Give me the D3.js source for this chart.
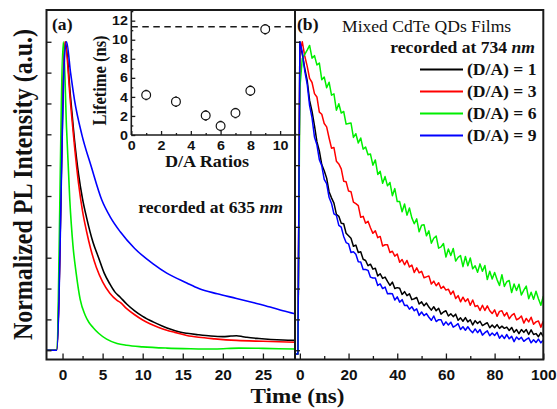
<!DOCTYPE html>
<html><head><meta charset="utf-8">
<script src="https://cdn.jsdelivr.net/npm/d3@7"></script>
<style>
html,body{margin:0;padding:0;background:#fff;}
svg{display:block;}
</style></head>
<body>
<svg id="chart" width="557" height="409"></svg>
<script>
// ---------- series ----------
const seriesNames  = ["(D/A) = 1", "(D/A) = 3", "(D/A) = 6", "(D/A) = 9"];
const seriesColors = ["#000000", "#ff0000", "#00ee00", "#0000ff"];

// (a) PL decays recorded at 635 nm (time in ns, normalized intensity)
const tA1 = [-2, -0.75, 0.35, 1.0, 1.5, 2.0, 2.5, 3.0, 3.8, 4.5, 5.2, 5.9, 6.5, 7.2, 8, 9, 10, 11.3, 12.5, 13.5, 14.5, 15.5, 17, 18.5, 20, 21, 21.7, 22.5, 23, 24.5, 26, 27.5, 29];
const vA1 = [0, 0, 1.0, 0.82, 0.68, 0.57, 0.49, 0.43, 0.35, 0.30, 0.25, 0.215, 0.19, 0.172, 0.15, 0.128, 0.11, 0.092, 0.078, 0.068, 0.06, 0.055, 0.05, 0.046, 0.044, 0.046, 0.047, 0.044, 0.042, 0.038, 0.035, 0.033, 0.032];
const tA3 = [-2, -0.72, 0.3, 1.0, 1.5, 2.0, 2.5, 3.0, 3.5, 4.2, 5.0, 5.9, 6.8, 7.2, 8, 9, 10, 10.9, 12, 13, 14, 15.5, 17, 19, 21.7, 25, 29];
const vA3 = [0, 0, 1.0, 0.8, 0.66, 0.54, 0.45, 0.385, 0.33, 0.27, 0.222, 0.185, 0.162, 0.155, 0.135, 0.115, 0.098, 0.086, 0.074, 0.065, 0.058, 0.048, 0.042, 0.037, 0.032, 0.029, 0.026];
const tA6 = [-2, -0.75, 0.1, 0.5, 0.9, 1.3, 1.7, 2.2, 2.8, 3.3, 3.8, 4.5, 5.5, 6.8, 8, 10, 13, 16, 19, 22, 25, 27, 29];
const vA6 = [0, 0, 1.0, 0.72, 0.49, 0.34, 0.25, 0.165, 0.115, 0.09, 0.074, 0.055, 0.036, 0.022, 0.016, 0.011, 0.007, 0.005, 0.004, 0.007, 0.006, 0.005, 0.004];
const tA9 = [-2, -0.72, 0.25, 0.5, 1.0, 1.5, 2.4, 3.6, 4.9, 6, 7.2, 9, 11.3, 13, 15.5, 17, 19.3, 21.7, 24, 25.9, 27.5, 29];
const vA9 = [0, 0, 0.95, 1.0, 0.9, 0.81, 0.70, 0.594, 0.487, 0.43, 0.384, 0.33, 0.28, 0.25, 0.218, 0.2, 0.183, 0.168, 0.153, 0.14, 0.128, 0.118];

// (b) PL decays recorded at 734 nm
const tB = [-2, -0.8, 0, 1, 2, 3, 4, 5, 6, 7, 8, 9, 10, 11, 12, 13, 14, 15, 16, 17, 18, 19, 20, 21, 22, 23, 24, 25, 26, 27, 28, 29, 30, 31, 32, 33, 34, 35, 36, 37, 38, 39, 40, 41, 42, 43, 44, 45, 46, 47, 48, 49, 50, 51, 52, 53, 54, 55, 56, 57, 58, 59, 60, 61, 62, 63, 64, 65, 66, 67, 68, 69, 70, 71, 72, 73, 74, 75, 76, 77, 78, 79, 80, 81, 82, 83, 84, 85, 86, 87, 88, 89, 90, 91, 92, 93, 94, 95, 96, 97, 98, 99, 100];
const vB1 = [-0.012, -0.012,
  1.000, 0.959, 0.914, 0.875, 0.810, 0.774, 0.728, 0.676, 0.646, 0.602,
  0.582, 0.558, 0.514, 0.494, 0.477, 0.441, 0.434, 0.412, 0.410, 0.379,
  0.371, 0.363, 0.337, 0.341, 0.317, 0.319, 0.295, 0.291, 0.274, 0.279,
  0.263, 0.266, 0.241, 0.248, 0.233, 0.237, 0.223, 0.210, 0.221, 0.200,
  0.203, 0.201, 0.181, 0.190, 0.177, 0.183, 0.164, 0.167, 0.171, 0.150,
  0.157, 0.144, 0.153, 0.140, 0.130, 0.141, 0.128, 0.136, 0.117, 0.124,
  0.128, 0.111, 0.118, 0.109, 0.117, 0.097, 0.105, 0.094, 0.106, 0.092,
  0.099, 0.082, 0.096, 0.087, 0.094, 0.080, 0.085, 0.089, 0.073, 0.082,
  0.073, 0.083, 0.071, 0.078, 0.071, 0.075, 0.064, 0.074, 0.058, 0.067,
  0.054, 0.067, 0.058, 0.067, 0.051, 0.066, 0.051, 0.054, 0.044, 0.057, 0.044];
const vB3 = [-0.012, -0.012,
  0.965, 1.000, 0.954, 0.921, 0.881, 0.868, 0.832, 0.821, 0.772, 0.765,
  0.735, 0.724, 0.688, 0.655, 0.657, 0.613, 0.604, 0.588, 0.548, 0.546,
  0.516, 0.514, 0.480, 0.475, 0.469, 0.431, 0.434, 0.412, 0.418, 0.397,
  0.379, 0.387, 0.365, 0.369, 0.338, 0.342, 0.342, 0.317, 0.321, 0.305,
  0.312, 0.285, 0.294, 0.277, 0.291, 0.270, 0.276, 0.252, 0.267, 0.251,
  0.256, 0.235, 0.238, 0.241, 0.215, 0.224, 0.209, 0.219, 0.200, 0.207,
  0.195, 0.198, 0.181, 0.192, 0.168, 0.177, 0.157, 0.172, 0.158, 0.167,
  0.146, 0.163, 0.142, 0.145, 0.129, 0.146, 0.129, 0.144, 0.128, 0.119,
  0.131, 0.110, 0.126, 0.128, 0.111, 0.122, 0.102, 0.113, 0.119, 0.099,
  0.103, 0.111, 0.088, 0.103, 0.092, 0.107, 0.084, 0.092, 0.095, 0.075, 0.095];
const vB6 = [-0.012, -0.012,
  0.850, 0.946, 0.959, 0.973, 0.988, 0.947, 0.955, 0.925, 0.931, 0.877,
  0.886, 0.851, 0.869, 0.827, 0.831, 0.778, 0.799, 0.769, 0.774, 0.733,
  0.735, 0.737, 0.690, 0.702, 0.672, 0.688, 0.652, 0.659, 0.634, 0.636,
  0.600, 0.617, 0.570, 0.580, 0.541, 0.563, 0.533, 0.544, 0.501, 0.524,
  0.482, 0.482, 0.449, 0.474, 0.438, 0.461, 0.429, 0.410, 0.426, 0.384,
  0.405, 0.407, 0.371, 0.387, 0.347, 0.363, 0.370, 0.331, 0.335, 0.346,
  0.302, 0.328, 0.307, 0.330, 0.289, 0.301, 0.307, 0.271, 0.304, 0.274,
  0.299, 0.264, 0.274, 0.253, 0.280, 0.256, 0.275, 0.229, 0.256, 0.231,
  0.252, 0.229, 0.210, 0.245, 0.207, 0.222, 0.226, 0.187, 0.215, 0.194,
  0.214, 0.179, 0.195, 0.208, 0.167, 0.188, 0.165, 0.191, 0.167, 0.146, 0.175];
const vB9 = [-0.012, -0.012,
  1.000, 0.966, 0.906, 0.863, 0.793, 0.753, 0.691, 0.666, 0.618, 0.598,
  0.554, 0.540, 0.496, 0.476, 0.442, 0.437, 0.405, 0.399, 0.369, 0.349,
  0.345, 0.317, 0.319, 0.311, 0.287, 0.286, 0.262, 0.262, 0.259, 0.237,
  0.234, 0.234, 0.210, 0.215, 0.200, 0.205, 0.183, 0.184, 0.183, 0.163,
  0.173, 0.156, 0.164, 0.145, 0.146, 0.133, 0.141, 0.128, 0.134, 0.113,
  0.124, 0.112, 0.119, 0.107, 0.097, 0.111, 0.093, 0.099, 0.099, 0.081,
  0.092, 0.082, 0.091, 0.075, 0.080, 0.086, 0.067, 0.076, 0.065, 0.076,
  0.065, 0.057, 0.069, 0.057, 0.067, 0.049, 0.057, 0.063, 0.047, 0.056,
  0.048, 0.058, 0.039, 0.049, 0.038, 0.051, 0.037, 0.045, 0.028, 0.043,
  0.035, 0.042, 0.029, 0.035, 0.040, 0.024, 0.034, 0.025, 0.036, 0.024, 0.033];

// inset: fitted lifetime vs donor/acceptor ratio
const ratios      = [1, 3, 5, 6, 7, 8, 9];
const lifetimes   = [4.2, 3.5, 2.05, 0.95, 2.3, 4.65, 11.1];
const lifetimeErr = [0.55, 0.55, 0.55, 0.55, 0.55, 0.55, 0.55];
const refLifetime = 11.37;

// ticks
const ticksA  = [0, 5, 10, 15, 20, 25];
const minorA  = [2.5, 7.5, 12.5, 17.5, 22.5, 27.5];
const ticksB  = [0, 20, 40, 60, 80, 100];
const minorB  = [10, 30, 50, 70, 90];
const ticksY  = [0, 0.1, 0.2, 0.3, 0.4, 0.5, 0.6, 0.7, 0.8, 0.9, 1.0];
const insetTicksX = [0, 2, 4, 6, 8, 10];
const insetMinorX = [1, 3, 5, 7, 9, 11];
const insetTicksY = [0, 2, 4, 6, 8, 10, 12];
const insetMinorY = [1, 3, 5, 7, 9, 11, 13];

// ---------- layout ----------
const svg = d3.select("#chart");
const L = 46.5, T = 10, R = 543.3, B = 359.5, MID = 295;
const SERIF = "'Liberation Serif','Times New Roman',serif";
const SANS  = "'Liberation Sans',Arial,sans-serif";
const SX = 1.1;   // horizontal stretch of lettering
const AX = "#1a1a1a";

const y  = d3.scaleLinear().domain([-0.03, 1.103]).range([B, T]);
const xA = d3.scaleLinear().domain([-2, 29]).range([L, MID]);
const xB = d3.scaleLinear().domain([-2, 100]).range([MID, R]);

const defs = svg.append("defs");
defs.append("clipPath").attr("id", "clipA").append("rect")
  .attr("x", L).attr("y", T).attr("width", MID - L).attr("height", B - T);
defs.append("clipPath").attr("id", "clipB").append("rect")
  .attr("x", MID).attr("y", T).attr("width", R - MID).attr("height", B - T);

// panel (a) curves
const lineA = d3.line().x(d => xA(d[0])).y(d => y(d[1])).curve(d3.curveMonotoneX);
const gA = svg.append("g").attr("clip-path", "url(#clipA)");
[[tA1, vA1], [tA3, vA3], [tA6, vA6], [tA9, vA9]].forEach(([t, v], i) => {
  gA.append("path").attr("d", lineA(d3.zip(t, v)))
    .attr("fill", "none").attr("stroke", seriesColors[i]).attr("stroke-width", 1.6)
    .attr("stroke-linejoin", "round");
});

// panel (b) curves
const lineB = d3.line().x(d => xB(d[0])).y(d => y(d[1]));
const gB = svg.append("g").attr("clip-path", "url(#clipB)");
[vB1, vB3, vB6, vB9].forEach((v, i) => {
  gB.append("path").attr("d", lineB(d3.zip(tB, v)))
    .attr("fill", "none").attr("stroke", seriesColors[i]).attr("stroke-width", 1.5)
    .attr("stroke-linejoin", "round");
});

// axes
function styleAxis(g, size, family) {
  g.select(".domain").remove();
  g.selectAll(".tick line").attr("stroke", AX).attr("stroke-width", 1.3);
  g.selectAll(".tick text").attr("fill", "#111").attr("font-family", family)
    .attr("font-weight", "bold").attr("font-size", size)
    .attr("transform", `scale(${SX},1)`);
}
function bottomAxis(scale, ticks, minor) {
  const g = svg.append("g").attr("transform", `translate(0,${B})`)
    .call(d3.axisBottom(scale).tickValues(ticks).tickSize(-6).tickPadding(10.6).tickFormat(d3.format("d")));
  styleAxis(g, 14, SANS);
  const m = svg.append("g").attr("transform", `translate(0,${B})`)
    .call(d3.axisBottom(scale).tickValues(minor).tickSize(-3.5).tickFormat(""));
  styleAxis(m, 14, SANS);
}
bottomAxis(xA, ticksA, minorA);
bottomAxis(xB, ticksB, minorB);

[L, MID].forEach(px => {
  const g = svg.append("g").attr("transform", `translate(${px},0)`)
    .call(d3.axisLeft(y).tickValues(ticksY).tickSize(-5).tickFormat(""));
  styleAxis(g, 14, SANS);
});

// outer frame and panel divider
svg.append("rect").attr("x", L).attr("y", T).attr("width", R - L).attr("height", B - T)
  .attr("fill", "none").attr("stroke", AX).attr("stroke-width", 2);
svg.append("line").attr("x1", MID).attr("x2", MID).attr("y1", T).attr("y2", B)
  .attr("stroke", AX).attr("stroke-width", 2);

// ---------- inset ----------
const IL = 131.3, IB = 135;
const ix = d3.scaleLinear().domain([0, 11]).range([IL, MID]);
const iy = d3.scaleLinear().domain([0, 13.12]).range([IB, T]);
const gi = svg.append("g");
gi.append("line").attr("x1", IL).attr("x2", IL).attr("y1", T).attr("y2", IB)
  .attr("stroke", AX).attr("stroke-width", 1.6);
gi.append("line").attr("x1", IL).attr("x2", MID).attr("y1", IB).attr("y2", IB)
  .attr("stroke", AX).attr("stroke-width", 1.6);

const iyAxis = gi.append("g").attr("transform", `translate(${IL},0)`)
  .call(d3.axisLeft(iy).tickValues(insetTicksY).tickSize(-4).tickPadding(3).tickFormat(d3.format("d")));
styleAxis(iyAxis, 13, SANS);
const iyMinor = gi.append("g").attr("transform", `translate(${IL},0)`)
  .call(d3.axisLeft(iy).tickValues(insetMinorY).tickSize(-2).tickFormat(""));
styleAxis(iyMinor, 13, SANS);
const ixAxis = gi.append("g").attr("transform", `translate(0,${IB})`)
  .call(d3.axisBottom(ix).tickValues(insetTicksX).tickSize(-4).tickPadding(6).tickFormat(d3.format("d")));
styleAxis(ixAxis, 13, SANS);
const ixMinor = gi.append("g").attr("transform", `translate(0,${IB})`)
  .call(d3.axisBottom(ix).tickValues(insetMinorX).tickSize(-2).tickFormat(""));
styleAxis(ixMinor, 13, SANS);

// reference lifetime (dashed)
gi.append("line").attr("x1", ix(0)).attr("x2", ix(11))
  .attr("y1", iy(refLifetime)).attr("y2", iy(refLifetime))
  .attr("stroke", AX).attr("stroke-width", 1.5).attr("stroke-dasharray", "6.5,4.5");

// error bars and open markers
const pts = d3.zip(ratios, lifetimes, lifetimeErr);
gi.selectAll("line.err").data(pts).join("line").attr("class", "err")
  .attr("x1", d => ix(d[0])).attr("x2", d => ix(d[0]))
  .attr("y1", d => iy(d[1] - d[2])).attr("y2", d => iy(d[1] + d[2]))
  .attr("stroke", "#111").attr("stroke-width", 2.2);
gi.selectAll("circle.pt").data(pts).join("circle").attr("class", "pt")
  .attr("cx", d => ix(d[0])).attr("cy", d => iy(d[1])).attr("r", 4.4)
  .attr("fill", "#fff").attr("stroke", "#111").attr("stroke-width", 1.2);

// ---------- text ----------
function label(x, yy, str, size, opts = {}) {
  const t = svg.append("text")
    .attr("transform", `translate(${x},${yy}) scale(${SX},1)` + (opts.rotate ? ` rotate(${opts.rotate})` : ""))
    .attr("font-family", opts.family || SERIF)
    .attr("font-weight", opts.weight || "bold")
    .attr("font-size", size)
    .attr("text-anchor", opts.anchor || "start")
    .attr("fill", "#111");
  if (opts.italicTail) {
    t.append("tspan").text(str);
    t.append("tspan").attr("font-style", "italic").text(opts.italicTail);
  } else {
    t.text(str);
  }
  return t;
}

label(32, 184.5, "Normalized PL Intensity (a.u.)", 24, { rotate: -90, anchor: "middle" });
label(297.5, 403, "Time (ns)", 21, { anchor: "middle" });

label(52, 30, "(a)", 16);
label(297, 30, "(b)", 16);
label(342, 32, "Mixed CdTe QDs Films", 16, { weight: "normal" });
label(535, 52.5, "recorded at 734 ", 16, { anchor: "end", italicTail: "nm" });
label(138.3, 212.5, "recorded at 635 ", 16, { italicTail: "nm" });

label(106, 80.5, "Lifetime (ns)", 16.5, { rotate: -90, anchor: "middle" });
label(207, 167, "D/A Ratios", 16.5, { anchor: "middle" });

// legend
seriesNames.forEach((name, i) => {
  const ly = 69.5 + 22 * i;
  svg.append("line").attr("x1", 420).attr("x2", 463).attr("y1", ly).attr("y2", ly)
    .attr("stroke", seriesColors[i]).attr("stroke-width", 2);
  label(467, ly + 5.5, name, 16);
});
</script>
</body></html>
